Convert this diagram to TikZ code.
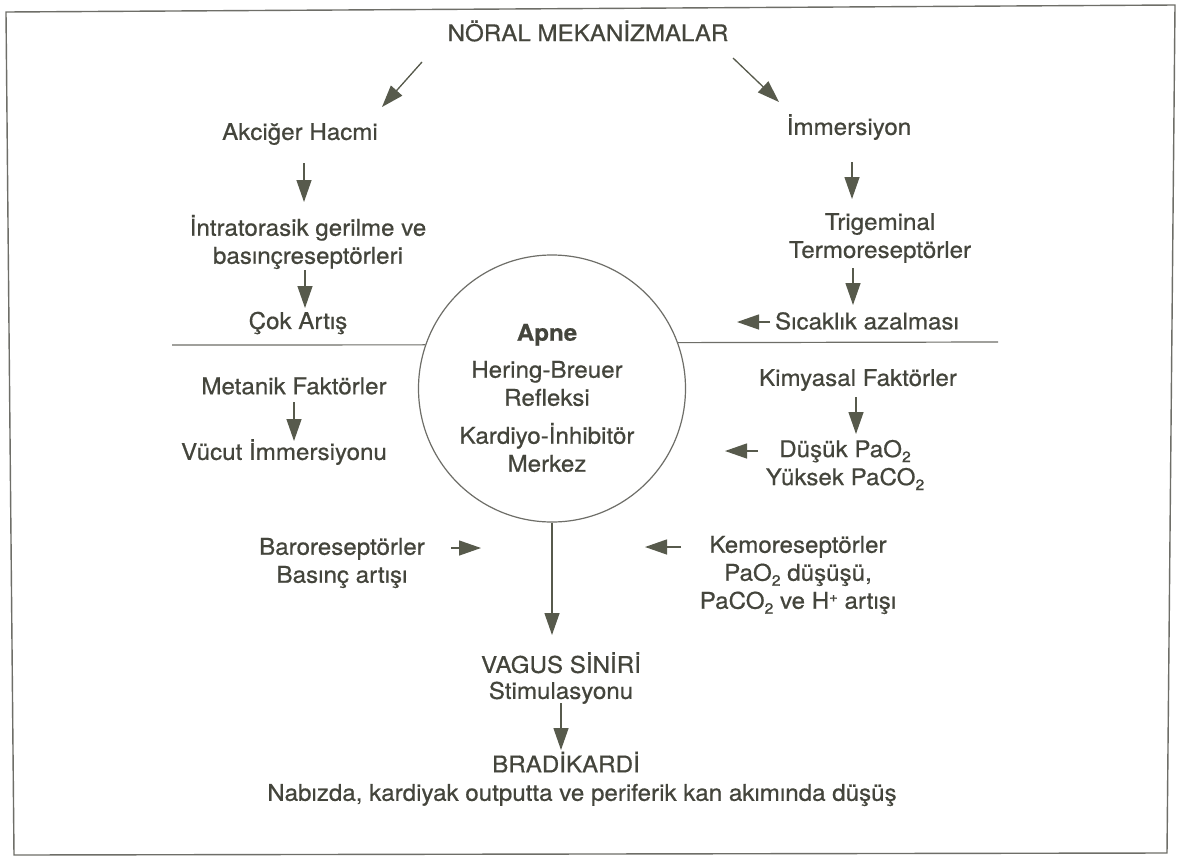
\documentclass[tikz,border=0pt]{standalone}
\usepackage{fontspec}
\setmainfont[FakeStretch=1.05,FakeBold=0.6]{TeX Gyre Heros}
\usetikzlibrary{arrows.meta,calc}
\definecolor{ink}{HTML}{44453C}
\definecolor{arrowc}{HTML}{575A4C}
\definecolor{linec}{HTML}{6E6E68}
\newcommand{\lowsub}[1]{\raisebox{-5pt}{\fontsize{15}{15}\selectfont #1}}
\newcommand{\highsup}[1]{\raisebox{7pt}{\fontsize{14}{14}\selectfont #1}}
\begin{document}
\begin{tikzpicture}[x=1pt,y=-1pt,
  lbl/.style={inner sep=0pt, align=center, text=ink, font=\fontsize{23}{28}\selectfont},
  arr/.style={draw=arrowc, line width=1.3pt, -{Triangle[length=22pt,width=15pt]}},
  sep/.style={draw=linec, line width=1.2pt},
]
\useasboundingbox (0,0) rectangle (1178,865);
\fill[white] (0,0) rectangle (1178,865);
% frame
\draw[linec, line width=1.4pt] (6,12) -- (1175,5) -- (1167,853) -- (14,855) -- cycle;

% nodes
\node[lbl] (title) at (588,31) {NÖRAL MEKANİZMALAR};
\node[lbl] (akc) at (300,134) {Akciğer Hacmi};
\node[lbl] (imm) at (849,127) {İmmersiyon};
\node[lbl] (intra) at (308,242) {İntratorasik gerilme ve\\basınçreseptörleri};
\node[lbl] (trig) at (880,238) {Trigeminal\\Termoreseptörler};
\node[lbl] (cok) at (298,323) {Çok Artış};
\node[lbl] (sic) at (867,321) {Sıcaklık azalması};
\node[lbl] (met) at (294,386) {Metanik Faktörler};
\node[lbl] (vuc) at (284,452) {Vücut İmmersiyonu};
\node[lbl] (kim) at (858,380) {Kimyasal Faktörler};
\node[lbl] (dus) at (845,465) {Düşük PaO\lowsub{2}\\Yüksek PaCO\lowsub{2}};
\node[lbl] (baro) at (342,563) {Baroreseptörler\\Basınç artışı};
\node[lbl] (kemo) at (798,575) {Kemoreseptörler\\PaO\lowsub{2} düşüşü,\\PaCO\lowsub{2} ve H\highsup{+} artışı};
\node[circle, draw=linec, line width=1.2pt, minimum size=267pt, inner sep=0pt] (circ) at (552,388.5) {};
\node[lbl] (cent) at (547,398) {\textbf{Apne}\\[9pt]Hering-Breuer\\Refleksi\\[10pt]Kardiyo-İnhibitör\\Merkez};
\node[lbl, font=\fontsize{23}{26}\selectfont] (vagus) at (561,678) {VAGUS SİNİRİ\\Stimulasyonu};
\node[lbl] (brad) at (566,762) {BRADİKARDİ};
\node[lbl] (nab) at (582,795) {Nabızda, kardiyak outputta ve periferik kan akımında düşüş};

% free arrow ends
\coordinate (sicTip) at (737,322);
\coordinate (dusTip) at (725,451);
\coordinate (baroTip) at (481,548);
\coordinate (kemoTip) at (645,547);
\coordinate (lineL) at (172,345);
\coordinate (lineR) at (998,342);

% separators
\draw[sep] (lineL) -- (circ.161);
\draw[sep] (circ.20) -- (lineR);

% arrows
\draw[arr] ([shift={(-166,31)}]title.center) -- ([shift={(82,-27)}]akc.center);
\draw[arr] ([shift={(145,27)}]title.center) -- ([shift={(-70,-25)}]imm.center);
\draw[arr] ([shift={(4,29)}]akc.center) -- ([shift={(-4,-40)}]intra.center);
\draw[arr] ([shift={(-3,28)}]intra.center) -- ([shift={(7,-15)}]cok.center);
\draw[arr] ([shift={(3,35)}]imm.center) -- ([shift={(-28,-39)}]trig.center);
\draw[arr] ([shift={(-27,30)}]trig.center) -- ([shift={(-14,-16)}]sic.center);
\draw[arr] ([shift={(-97,1)}]sic.center) -- (sicTip);
\draw[arr] ([shift={(0,16)}]met.center) -- ([shift={(10,-11)}]vuc.center);
\draw[arr] ([shift={(-2,17)}]kim.center) -- ([shift={(11,-31)}]dus.center);
\draw[arr] ([shift={(-87,-14)}]dus.center) -- (dusTip);
\draw[arr] ([shift={(109,-15)}]baro.center) -- (baroTip);
\draw[arr] ([shift={(-117,-28)}]kemo.center) -- (kemoTip);
\draw[arr] (circ.south) -- ([shift={(-9,-43)}]vagus.center);
\draw[arr] ([shift={(0,25)}]vagus.center) -- ([shift={(-5,-12)}]brad.center);
\end{tikzpicture}
\end{document}
